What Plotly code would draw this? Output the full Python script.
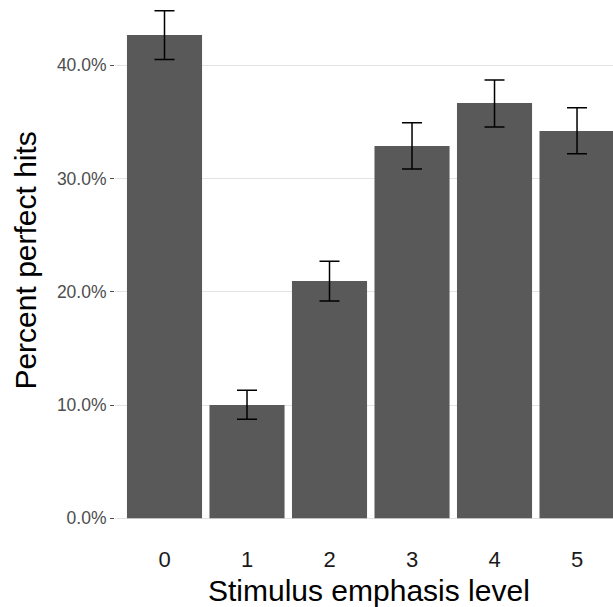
import plotly.graph_objects as go

levels = ["0", "1", "2", "3", "4", "5"]
pct_hits = [0.4266, 0.1000, 0.2094, 0.3286, 0.3665, 0.3418]
upper = [0.448, 0.113, 0.2268, 0.3492, 0.3868, 0.3624]
lower = [0.405, 0.0874, 0.1918, 0.3083, 0.3453, 0.3218]

x_title = "Stimulus emphasis level"
y_title = "Percent perfect hits"

err_plus = [u - v for u, v in zip(upper, pct_hits)]
err_minus = [v - l for v, l in zip(pct_hits, lower)]

fig = go.Figure(go.Bar(
    x=levels, y=pct_hits,
    marker=dict(color="#595959", line=dict(width=0)),
    error_y=dict(type="data", symmetric=False, array=err_plus, arrayminus=err_minus,
                 color="black", thickness=1.5, width=10),
))

fig.update_layout(
    width=613, height=607,
    margin=dict(l=115, r=0, t=0, b=63),
    plot_bgcolor="white", paper_bgcolor="white",
    font=dict(family="Liberation Sans, Arial, sans-serif"),
    bargap=0.09,
    showlegend=False,
    xaxis=dict(
        type="category", range=[-0.6, 5.436],
        showgrid=False, zeroline=False, showline=False,
        ticks="", tickfont=dict(size=22, color="#1a1a1a"),
        ticklabelstandoff=0,
        automargin=False,
    ),
    yaxis=dict(
        range=[-0.0227, 0.4575],
        tickvals=[0, 0.1, 0.2, 0.3, 0.4], tickformat=".1%",
        showgrid=True, gridcolor="#E3E3E3", gridwidth=1,
        zeroline=False, showline=False,
        ticks="outside", ticklen=4, tickcolor="#4D4D4D", tickwidth=1,
        tickfont=dict(size=17.5, color="#4D4D4D"),
        automargin=False,
    ),
    annotations=[
        dict(text=x_title, xref="paper", yref="paper", x=0.51, y=-0.0846,
             xanchor="center", yanchor="middle", showarrow=False,
             font=dict(size=30, color="black")),
        dict(text=y_title, xref="paper", yref="paper", x=-0.1787, y=0.521,
             xanchor="center", yanchor="middle", showarrow=False, textangle=-90,
             font=dict(size=30, color="black")),
    ],
)

fig.write_html("out.html")
